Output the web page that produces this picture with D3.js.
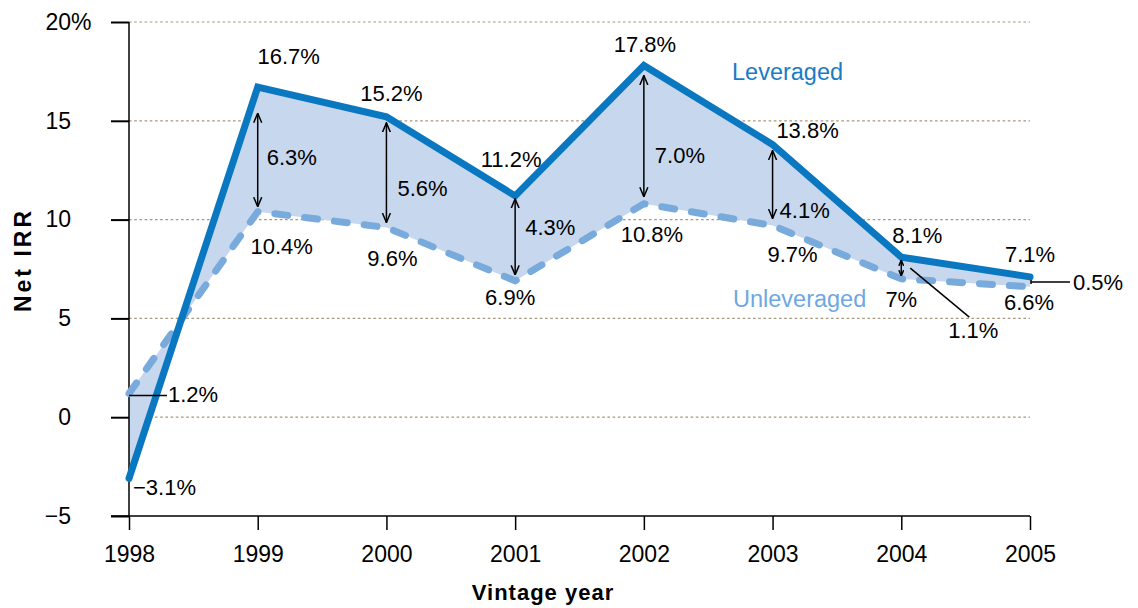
<!DOCTYPE html>
<html>
<head>
<meta charset="utf-8">
<script src="https://cdn.jsdelivr.net/npm/d3@7/dist/d3.min.js"></script>
<style>
  html, body { margin: 0; padding: 0; background: #fff; }
  svg { display: block; font-family: "Liberation Sans", Arial, Helvetica, sans-serif; }
</style>
</head>
<body>
<svg id="chart" width="1138" height="608"></svg>
<script>
// ---------- data ----------
const years = [1998, 1999, 2000, 2001, 2002, 2003, 2004, 2005];
const leveraged = [-3.1, 16.7, 15.2, 11.2, 17.8, 13.8, 8.1, 7.1];
const unleveraged = [1.2, 10.4, 9.6, 6.9, 10.8, 9.7, 7.0, 6.6];
const leveragedLabels = ["\u22123.1%", "16.7%", "15.2%", "11.2%", "17.8%", "13.8%", "8.1%", "7.1%"];
const unleveragedLabels = ["1.2%", "10.4%", "9.6%", "6.9%", "10.8%", "9.7%", "7%", "6.6%"];
const spreadYears = [1999, 2000, 2001, 2002, 2003, 2004, 2005];
const spreadLabels = ["6.3%", "5.6%", "4.3%", "7.0%", "4.1%", "1.1%", "0.5%"];
const yTicks = [-5, 0, 5, 10, 15, 20];
const gridTicks = [0, 5, 10, 15, 20];
const seriesNames = ["Leveraged", "Unleveraged"];
const yTitle = "Net IRR";
const xTitle = "Vintage year";

// ---------- layout (positions / styles) ----------
const colLev = "#0a77c1", colUnlev = "#79aadc", colFill = "#c6d7ee", colGrid = "#a6977e";
const levOff = [{dx:4,dy:9,a:"start"},{dx:31,dy:-31},{dx:5,dy:-24},{dx:-4,dy:-37},{dx:1,dy:-21},{dx:35,dy:-14},{dx:16,dy:-22},{dx:0,dy:-23}];
const unlevOff = [{dx:39,dy:1,a:"start"},{dx:24,dy:34},{dx:6,dy:31},{dx:-5,dy:16},{dx:8,dy:30},{dx:20,dy:29},{dx:0,dy:20},{dx:-1,dy:15}];
const spreadOff = [{dx:9,dy:70},{dx:11,dy:71},{dx:10,dy:31},{dx:11,dy:90},{dx:7,dy:66},{dx:72,dy:73,a:"middle"},{dx:43,dy:5}];
const arrowTop = [26, 6, 3, 10, 6, 3];
const arrowBot = [5, 5, 6, 7, 7, 3];

const svg = d3.select("#chart");
const x = d3.scaleLinear().domain([1998, 2005]).range([129, 1030]);
const y = d3.scaleLinear().domain([-5, 20]).range([516, 22]);

const FS = 22; // data label font size
const TFS = 23; // tick font size
const mid = v => v + FS * 0.36;

// markers
const defs = svg.append("defs");
function marker(id, size) {
  defs.append("marker").attr("id", id)
    .attr("viewBox", "0 0 10 10").attr("refX", 9.5).attr("refY", 5)
    .attr("markerWidth", size).attr("markerHeight", size)
    .attr("markerUnits", "userSpaceOnUse").attr("orient", "auto-start-reverse")
    .append("path").attr("d", "M0,1 L9.5,5 L0,9")
    .attr("fill", "none").attr("stroke", "#000").attr("stroke-width", 1.5 * 10 / size);
}
marker("arr", 10);
marker("arrS", 6);

// gridlines
svg.append("g").selectAll("line").data(gridTicks).join("line")
  .attr("x1", x(1998)).attr("x2", x(2005))
  .attr("y1", d => y(d)).attr("y2", d => y(d))
  .attr("stroke", colGrid).attr("stroke-width", 1.2).attr("stroke-dasharray", "2.6,2.6");

// fill between
const area = d3.area()
  .x((d, i) => x(years[i]))
  .y0((d, i) => y(unleveraged[i]))
  .y1((d, i) => y(leveraged[i]));
svg.append("path").datum(years).attr("d", area).attr("fill", colFill);

// axes
const yAxis = d3.axisLeft(y).tickValues(yTicks).tickSize(18).tickPadding(40)
  .tickFormat(d => d3.format("d")(d));
const gy = svg.append("g").attr("transform", `translate(${x(1998)},0)`).call(yAxis);
gy.select(".domain").remove();
gy.selectAll(".tick line").attr("stroke", "#000").attr("stroke-width", 2);
gy.selectAll(".tick text").attr("font-size", TFS).attr("fill", "#000")
  .attr("font-family", "Liberation Sans, Arial, sans-serif");
gy.selectAll(".tick").filter(d => d === 20).append("text")
  .attr("x", -58).attr("dy", "0.32em").attr("text-anchor", "start")
  .attr("font-size", TFS).attr("fill", "#000").text("%");

const xAxis = d3.axisBottom(x).tickValues(years).tickSize(14).tickPadding(16)
  .tickFormat(d3.format("d"));
const gx = svg.append("g").attr("transform", `translate(0,${y(-5)})`).call(xAxis);
gx.select(".domain").remove();
gx.selectAll(".tick line").attr("stroke", "#000").attr("stroke-width", 1.5);
gx.selectAll(".tick text").attr("font-size", TFS).attr("fill", "#000")
  .attr("font-family", "Liberation Sans, Arial, sans-serif");

// axis lines
svg.append("line").attr("x1", x(1998)).attr("x2", x(1998)).attr("y1", y(20)).attr("y2", y(-5))
  .attr("stroke", "#000").attr("stroke-width", 1.5);
svg.append("line").attr("x1", x(1998) - 18).attr("x2", x(2005)).attr("y1", y(-5)).attr("y2", y(-5))
  .attr("stroke", "#000").attr("stroke-width", 1.5);

// lines
const lineOf = arr => d3.line().x((d, i) => x(years[i])).y((d, i) => y(arr[i]))(years);
svg.append("path").attr("d", lineOf(unleveraged)).attr("fill", "none")
  .attr("stroke", colUnlev).attr("stroke-width", 7).attr("stroke-linecap", "round")
  .attr("stroke-linejoin", "round").attr("stroke-dasharray", "13,17");
svg.append("path").attr("d", lineOf(leveraged)).attr("fill", "none")
  .attr("stroke", colLev).attr("stroke-width", 7).attr("stroke-linecap", "round")
  .attr("stroke-linejoin", "miter");

// spread arrows (1999-2004)
const g = svg.append("g");
spreadYears.slice(0, 6).forEach((yr, k) => {
  const i = years.indexOf(yr);
  g.append("line")
    .attr("x1", x(yr)).attr("x2", x(yr))
    .attr("y1", y(leveraged[i]) + arrowTop[k]).attr("y2", y(unleveraged[i]) - arrowBot[k])
    .attr("stroke", "#000").attr("stroke-width", 1.5)
    .attr("marker-start", k === 5 ? "url(#arrS)" : "url(#arr)")
    .attr("marker-end", k === 5 ? "url(#arrS)" : "url(#arr)");
});

// leader lines
g.append("line").attr("x1", x(1998)).attr("x2", x(1998) + 38)
  .attr("y1", y(unleveraged[0]) + 2).attr("y2", y(unleveraged[0]) + 2)
  .attr("stroke", "#000").attr("stroke-width", 1.5);
g.append("line").attr("x1", x(2004) + 9).attr("x2", x(2004) + 68)
  .attr("y1", y(leveraged[6]) + 11).attr("y2", y(leveraged[6]) + 60)
  .attr("stroke", "#000").attr("stroke-width", 1.5);
g.append("line").attr("x1", x(2005) + 1).attr("x2", x(2005) + 40)
  .attr("y1", y(leveraged[7]) + 5).attr("y2", y(leveraged[7]) + 5)
  .attr("stroke", "#000").attr("stroke-width", 1.5);
g.append("line").attr("x1", x(2005) + 1).attr("x2", x(2005) + 1)
  .attr("y1", y(leveraged[7]) + 3).attr("y2", y(leveraged[7]) + 7)
  .attr("stroke", "#000").attr("stroke-width", 1.5);

// labels
const lbl = svg.append("g").attr("font-size", FS).attr("fill", "#000");
years.forEach((yr, i) => {
  const o = levOff[i];
  lbl.append("text").attr("x", x(yr) + o.dx).attr("y", mid(y(leveraged[i]) + o.dy))
    .attr("text-anchor", o.a || "middle").text(leveragedLabels[i]);
  const u = unlevOff[i];
  lbl.append("text").attr("x", x(yr) + u.dx).attr("y", mid(y(unleveraged[i]) + u.dy))
    .attr("text-anchor", u.a || "middle").text(unleveragedLabels[i]);
});
spreadYears.forEach((yr, k) => {
  const i = years.indexOf(yr);
  const o = spreadOff[k];
  lbl.append("text").attr("x", x(yr) + o.dx).attr("y", mid(y(leveraged[i]) + o.dy))
    .attr("text-anchor", o.a || "start").text(spreadLabels[k]);
});

// series names
svg.append("text").attr("x", 732).attr("y", mid(72)).attr("font-size", 23.5)
  .attr("fill", "#1a7cc4").text(seriesNames[0]);
svg.append("text").attr("x", 733).attr("y", mid(299)).attr("font-size", 23.5)
  .attr("fill", "#6ea8df").text(seriesNames[1]);

// axis titles
svg.append("text").attr("transform", "translate(31,260) rotate(-90)")
  .attr("text-anchor", "middle").attr("font-size", 23).attr("font-weight", "bold")
  .attr("letter-spacing", 3).text(yTitle);
svg.append("text").attr("x", 543).attr("y", 600)
  .attr("text-anchor", "middle").attr("font-size", 22).attr("font-weight", "bold")
  .attr("letter-spacing", 1).text(xTitle);
</script>
</body>
</html>
